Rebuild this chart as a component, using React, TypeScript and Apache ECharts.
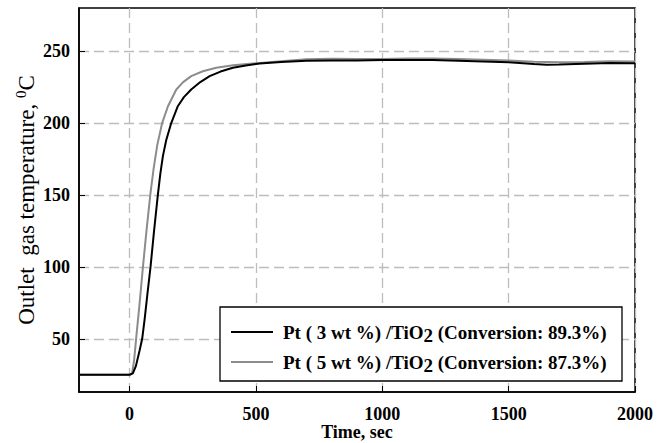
import React, { useEffect, useRef } from "react";
import * as echarts from "echarts";

const xTicks = [0, 500, 1000, 1500, 2000];
const yTicks = [50, 100, 150, 200, 250];

const pt3: [number, number][] = [
  [-200, 25], [-100, 25], [0, 25], [13, 26], [25, 31], [40, 42], [50, 50], [60, 64], [70, 80],
  [83, 100], [97, 125], [112, 150], [122, 165], [132, 177], [145, 188], [165, 200], [191, 211.7],
  [215, 218], [244, 223.3], [280, 228.5], [317, 232.6], [360, 235.8], [409, 238.4], [460, 240],
  [515, 241.4], [600, 242.5], [700, 243.3], [800, 243.5], [900, 243.5], [1000, 243.8], [1100, 243.8],
  [1200, 243.8], [1300, 243.3], [1400, 242.8], [1500, 242.3], [1600, 241], [1650, 240.6],
  [1700, 240.7], [1800, 241.3], [1900, 241.8], [2000, 241.5],
];

const pt5: [number, number][] = [
  [-200, 25], [-100, 25], [0, 25], [10, 26], [18, 35], [26, 50], [40, 75], [53, 100], [67, 125],
  [82, 150], [95, 168], [110, 185], [129, 200], [152, 211.7], [185, 223.3], [212, 228.5],
  [244, 232.6], [290, 236], [343, 238.4], [410, 240.2], [488, 241.4], [600, 243], [700, 244.3],
  [800, 244.7], [900, 244.5], [1000, 244.5], [1100, 244.8], [1200, 244.8], [1300, 244.5],
  [1400, 244], [1500, 243.5], [1600, 242.6], [1700, 242.3], [1800, 242.5], [1900, 243], [2000, 242.8],
];

const name3 = "Pt ( 3 wt %) /TiO{sub|2} (Conversion: 89.3%)";
const name5 = "Pt ( 5 wt %) /TiO{sub|2} (Conversion: 87.3%)";

const FONT = "'Liberation Serif', 'Times New Roman', serif";

export default function App() {
  const ref = useRef<HTMLDivElement>(null);
  useEffect(() => {
    if (!ref.current) return;
    const chart = echarts.init(ref.current, undefined, { renderer: "svg" });
    const gridLine = { show: true, lineStyle: { color: "#bdbdbd", width: 1.3, type: [10, 5] as any } };
    chart.setOption({
      animation: false,
      backgroundColor: "#fff",
      grid: {
        left: 79, right: 34, top: 8, bottom: 51, show: true, borderColor: "#000", borderWidth: 1.5,
        backgroundColor: "transparent", containLabel: false, outerBoundsMode: "none",
      },
      xAxis: {
        type: "value",
        min: -200,
        max: 2000,
        name: "Time, sec",
        nameLocation: "middle",
        nameGap: 31,
        nameMoveOverlap: false,
        nameTextStyle: { fontFamily: FONT, fontSize: 18, fontWeight: "bold", color: "#000" },
        axisLine: { show: true, onZero: false, lineStyle: { color: "#000", width: 1.5 } },
        axisTick: { show: true, inside: true, length: 6, customValues: xTicks, lineStyle: { color: "#000" } },
        axisLabel: { customValues: xTicks, formatter: (v: number) => String(v), fontFamily: FONT, fontSize: 18, fontWeight: "bold", color: "#000", margin: 13 },
        splitLine: gridLine,
      },
      yAxis: {
        type: "value",
        min: 13,
        max: 280,
        name: "Outlet  gas temperature, {sup|0}C",
        nameLocation: "middle",
        nameGap: 40,
        nameMoveOverlap: false,
        nameTextStyle: {
          fontFamily: FONT, fontSize: 23, color: "#000",
          rich: { sup: { fontFamily: FONT, fontSize: 15, color: "#000", padding: [0, 0, 11, 0] } },
        },
        axisLine: { show: true, onZero: false, lineStyle: { color: "#000", width: 1.5 } },
        axisTick: { show: true, inside: true, length: 6, customValues: yTicks, lineStyle: { color: "#000" } },
        axisLabel: { customValues: yTicks, formatter: (v: number) => String(v), fontFamily: FONT, fontSize: 18, fontWeight: "bold", color: "#000", margin: 9 },
        splitLine: gridLine,
      },
      legend: {
        orient: "vertical",
        left: 231,
        top: 319,
        z: 60,
        icon: "rect",
        itemWidth: 42,
        itemHeight: 2,
        itemGap: 4,
        padding: 0,
        textStyle: {
          fontFamily: FONT, fontSize: 19, fontWeight: "bold", color: "#000", lineHeight: 22,
          padding: [0, 0, 0, 5],
          rich: { sub: { fontFamily: FONT, fontSize: 19, fontWeight: "bold", color: "#000", lineHeight: 22, padding: [7, 0, 0, 0] } },
        },
        data: [name3, name5],
      },
      graphic: [
        {
          type: "rect",
          z: 50,
          shape: { x: 220, y: 307, width: 402, height: 74 },
          style: { fill: "#fff", stroke: "#000", lineWidth: 1.3 },
        },
      ],
      series: [
        {
          name: name5,
          type: "line",
          data: pt5,
          showSymbol: false,
          symbol: "none",
          lineStyle: { color: "#8c8c8c", width: 2 },
          itemStyle: { color: "#8c8c8c" },
          z: 3,
        },
        {
          name: name3,
          type: "line",
          data: pt3,
          showSymbol: false,
          symbol: "none",
          lineStyle: { color: "#000", width: 2 },
          itemStyle: { color: "#000" },
          z: 4,
        },
      ],
    });
    return () => chart.dispose();
  }, []);
  return <div ref={ref} style={{ width: 669, height: 443, position: "absolute", left: 0, top: 0 }} />;
}
